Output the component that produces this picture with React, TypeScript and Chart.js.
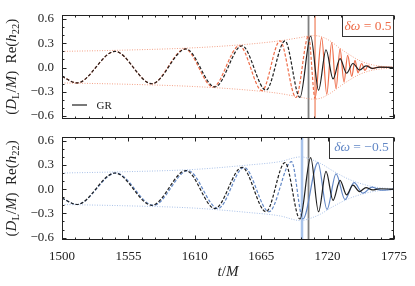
import React, { useEffect, useRef } from "react";
import { Chart, registerables } from "chart.js";

Chart.register(...registerables);

const FONT = '"Liberation Serif", "DejaVu Serif", serif';

// ---- axes ----
const X_MIN = 1500;
const X_MAX = 1775;
const Y_MIN = -0.63;
const Y_MAX = 0.65;
const xTickValues = [1500, 1555, 1610, 1665, 1720, 1775];
const X_MINOR_STEP = 11;
const yTickValues = [-0.6, -0.3, 0.0, 0.3, 0.6];
const Y_MINOR_STEP = 0.1;

// ---- GR waveform (extrema) ----
const grTime = [1500, 1512.4, 1543.9, 1574.5, 1602.7, 1626.7, 1649.1, 1669.0, 1684.7, 1697.1, 1706.0, 1712.5, 1718.7, 1724.5, 1730.3, 1735.7, 1741.0, 1746.4, 1751.8, 1757.2, 1763, 1775];
const grStrain = [-0.11, -0.19, 0.2, -0.2, 0.23, -0.24, 0.27, -0.28, 0.33, -0.37, 0.39, -0.28, 0.22, -0.14, 0.11, -0.07, 0.05, -0.03, 0.02, -0.01, 0.005, 0];
const grInspiralEnd = 1697.1;
const grMergerTime = 1704.2;

// ---- delta omega = +0.5 ----
const posTime = [1500, 1512.4, 1543.9, 1574.5, 1601.9, 1625.1, 1647.0, 1665.7, 1680.6, 1693.8, 1704.2, 1709.6, 1715.1, 1719.3, 1723.4, 1727.0, 1730.3, 1733.6, 1736.6, 1740.0, 1742.7, 1745.2, 1748.2, 1751.0, 1753.5, 1756.8, 1762, 1775];
const posStrain = [-0.11, -0.19, 0.2, -0.2, 0.23, -0.24, 0.27, -0.285, 0.33, -0.37, 0.39, -0.38, 0.37, -0.33, 0.31, -0.26, 0.23, -0.18, 0.15, -0.11, 0.09, -0.065, 0.05, -0.035, 0.025, -0.013, 0.005, 0];
const posInspiralEnd = 1709.6;
const posMergerTime = 1709.6;
const posEnvTime = [1500, 1550, 1610, 1655, 1680, 1697, 1708, 1714, 1722, 1730, 1738, 1746, 1754, 1762, 1775];
const posEnvUpper = [0.2, 0.215, 0.245, 0.29, 0.33, 0.37, 0.395, 0.385, 0.33, 0.24, 0.16, 0.09, 0.045, 0.02, 0.005];
const posEnvLower = [-0.19, -0.205, -0.235, -0.28, -0.32, -0.365, -0.39, -0.38, -0.32, -0.235, -0.155, -0.088, -0.044, -0.02, -0.005];

// ---- delta omega = -0.5 ----
const negTime = [1500, 1512.4, 1544.7, 1575.8, 1604.4, 1629.2, 1650.8, 1671.5, 1690.1, 1699.6, 1712.0, 1719.5, 1727.0, 1734.4, 1741.9, 1749.3, 1756.8, 1764.2, 1775];
const negStrain = [-0.11, -0.19, 0.2, -0.2, 0.23, -0.24, 0.27, -0.28, 0.34, -0.37, 0.33, -0.25, 0.19, -0.13, 0.08, -0.05, 0.025, -0.012, 0];
const negInspiralEnd = 1699.6;
const negMergerTime = 1698.8;
const negEnvTime = [1500, 1550, 1610, 1655, 1680, 1698, 1706, 1714, 1724, 1738, 1752, 1762, 1775];
const negEnvUpper = [0.2, 0.215, 0.245, 0.3, 0.34, 0.4, 0.37, 0.32, 0.23, 0.12, 0.05, 0.02, 0.005];
const negEnvLower = [-0.19, -0.205, -0.235, -0.29, -0.33, -0.39, -0.36, -0.31, -0.22, -0.115, -0.048, -0.02, -0.005];

const COLORS = {
  gr: "#1f1f1f",
  grMerger: "#808080",
  pos: "#ee6c48",
  posEnv: "#f3a288",
  posMerger: "#f08866",
  neg: "#6388c6",
  negEnv: "#a9c1e8",
  negMerger: "#a9c4ec",
};

const zip = (xs: number[], ys: number[]) => xs.map((x, i) => ({ x, y: ys[i] }));

type Run = { t: string; italic?: boolean; sub?: boolean };

function drawRuns(ctx: CanvasRenderingContext2D, runs: Run[], x: number, y: number, size: number, color: string) {
  const fontFor = (r: Run) => `${r.italic ? "italic " : ""}${r.sub ? size * 0.7 : size}px ${FONT}`;
  let w = 0;
  for (const r of runs) {
    ctx.font = fontFor(r);
    w += ctx.measureText(r.t).width;
  }
  let cx = x - w / 2;
  ctx.fillStyle = color;
  ctx.textAlign = "left";
  ctx.textBaseline = "alphabetic";
  for (const r of runs) {
    ctx.font = fontFor(r);
    ctx.fillText(r.t, cx, y + (r.sub ? size * 0.22 : 0));
    cx += ctx.measureText(r.t).width;
  }
}

const yLabelRuns: Run[] = [
  { t: "(" }, { t: "D", italic: true }, { t: "L", sub: true }, { t: "/" }, { t: "M", italic: true }, { t: ")" },
  { t: "  Re(" }, { t: "h", italic: true }, { t: "22", sub: true }, { t: ")" },
];

const framePlugin = {
  id: "frameTicks",
  afterDatasetsDraw(chart: any) {
    const { ctx, chartArea: a, scales } = chart;
    const xs = scales.x;
    const ys = scales.y;
    ctx.save();
    ctx.strokeStyle = "#222";
    ctx.lineWidth = 1;
    const L = Math.round(a.left) + 0.5;
    const R = Math.round(a.right) - 0.5;
    const T = Math.round(a.top) + 0.5;
    const B = Math.round(a.bottom) - 0.5;
    ctx.strokeRect(L, T, R - L, B - T);
    ctx.beginPath();
    const nx = Math.round((X_MAX - X_MIN) / X_MINOR_STEP);
    for (let k = 0; k <= nx; k++) {
      const v = X_MIN + k * X_MINOR_STEP;
      const major = k % 5 === 0;
      const len = major ? 4 : 2;
      const px = Math.round(xs.getPixelForValue(v)) + 0.5;
      ctx.moveTo(px, B); ctx.lineTo(px, B - len);
      ctx.moveTo(px, T); ctx.lineTo(px, T + len);
    }
    for (let k = -6; k <= 6; k++) {
      const v = k * Y_MINOR_STEP;
      const major = k % 3 === 0;
      const len = major ? 4 : 2;
      const py = Math.round(ys.getPixelForValue(v)) + 0.5;
      ctx.moveTo(L, py); ctx.lineTo(L + len, py);
      ctx.moveTo(R, py); ctx.lineTo(R - len, py);
    }
    ctx.stroke();
    ctx.restore();
  },
};

function makeOverlay(opts: { boxText: Run[]; boxColor: string; boxLeft: number; boxBottom: number; baseline: number; legend: boolean; xTitle: boolean }) {
  return {
    id: "overlay",
    afterDraw(chart: any) {
      const { ctx, chartArea: a } = chart;
      ctx.save();
      // y label
      ctx.save();
      ctx.translate(15.5, (a.top + a.bottom) / 2);
      ctx.rotate(-Math.PI / 2);
      drawRuns(ctx, yLabelRuns, 0, 0, 15, "#222");
      ctx.restore();
      // box
      const bl = opts.boxLeft + 0.5;
      const bt = Math.round(a.top) + 0.5;
      const br = Math.round(a.right) - 0.5;
      const bb = opts.boxBottom + 0.5;
      ctx.fillStyle = "#fff";
      ctx.fillRect(bl, bt, br - bl, bb - bt);
      ctx.strokeStyle = "#333";
      ctx.lineWidth = 1;
      ctx.strokeRect(bl, bt, br - bl, bb - bt);
      drawRuns(ctx, opts.boxText, (bl + br) / 2, opts.baseline, 13.5, opts.boxColor);
      if (opts.legend) {
        ctx.strokeStyle = COLORS.gr;
        ctx.lineWidth = 1.2;
        ctx.beginPath();
        ctx.moveTo(72, a.bottom - 13.5);
        ctx.lineTo(87, a.bottom - 13.5);
        ctx.stroke();
        ctx.fillStyle = "#222";
        ctx.font = `11px ${FONT}`;
        ctx.textAlign = "left";
        ctx.textBaseline = "alphabetic";
        ctx.fillText("GR", 96.5, a.bottom - 9.5);
      }
      if (opts.xTitle) {
        drawRuns(ctx, [{ t: "t", italic: true }, { t: "/" }, { t: "M", italic: true }], (a.left + a.right) / 2, a.bottom + 36, 15, "#222");
      }
      ctx.restore();
    },
  };
}

function buildConfig(p: {
  modTime: number[]; modStrain: number[]; modInspEnd: number; modMerger: number;
  envTime: number[]; envUpper: number[]; envLower: number[];
  color: string; envColor: string; mergerColor: string; mergerWidth: number;
  showX: boolean; padding: any; overlay: any;
}): any {
  const wave = (data: any, color: string, inspEnd: number) => ({
    data,
    borderColor: color,
    borderWidth: 1.2,
    pointRadius: 0,
    cubicInterpolationMode: "monotone",
    borderDash: [],
    segment: {
      borderDash: (ctx: any) => (ctx.p1.parsed.x <= inspEnd + 0.01 ? [3.2, 1.8] : undefined),
    },
  });
  const env = (data: any) => ({
    data,
    borderColor: p.envColor,
    borderWidth: 1,
    pointRadius: 0,
    cubicInterpolationMode: "monotone",
    borderDash: [1, 1.5],
  });
  const vline = (t: number, color: string, width: number) => ({
    data: [{ x: t, y: Y_MIN }, { x: t, y: Y_MAX }],
    borderColor: color,
    borderWidth: width,
    pointRadius: 0,
    tension: 0,
  });
  return {
    type: "line",
    data: {
      datasets: [
        wave(zip(grTime, grStrain), COLORS.gr, grInspiralEnd),
        wave(zip(p.modTime, p.modStrain), p.color, p.modInspEnd),
        env(zip(p.envTime, p.envUpper)),
        env(zip(p.envTime, p.envLower)),
        vline(p.modMerger, p.mergerColor, p.mergerWidth),
        vline(grMergerTime, COLORS.grMerger, 1.8),
      ],
    },
    options: {
      animation: false,
      responsive: false,
      devicePixelRatio: 1,
      events: [],
      layout: { padding: p.padding },
      plugins: { legend: { display: false }, tooltip: { enabled: false }, title: { display: false } },
      scales: {
        x: {
          type: "linear",
          min: X_MIN,
          max: X_MAX,
          display: p.showX,
          grid: { display: false, drawTicks: false },
          border: { display: false },
          afterBuildTicks: (s: any) => { s.ticks = xTickValues.map((v) => ({ value: v })); },
          afterFit: (s: any) => {
            s.height = p.showX ? 46 : 0;
            s.paddingLeft = 0; s.paddingRight = 0; s.paddingTop = 0; s.paddingBottom = 0;
          },
          ticks: {
            font: { family: FONT, size: 13 },
            color: "#222",
            padding: 9,
            maxRotation: 0,
            autoSkip: false,
            callback: (v: any) => String(v),
          },
        },
        y: {
          type: "linear",
          min: Y_MIN,
          max: Y_MAX,
          grid: { display: false, drawTicks: false },
          border: { display: false },
          afterBuildTicks: (s: any) => { s.ticks = yTickValues.map((v) => ({ value: v })); },
          afterFit: (s: any) => {
            s.width = 62;
            s.paddingLeft = 0; s.paddingRight = 0; s.paddingTop = 0; s.paddingBottom = 0;
          },
          ticks: {
            font: { family: FONT, size: 13 },
            color: "#222",
            padding: 8,
            callback: (v: any) => (v < -1e-9 ? "\u2212" : "") + Math.abs(v).toFixed(1),
          },
        },
      },
    },
    plugins: [framePlugin, p.overlay],
  };
}

export default function App() {
  const topRef = useRef<HTMLCanvasElement>(null);
  const botRef = useRef<HTMLCanvasElement>(null);

  useEffect(() => {
    const top = new Chart(
      topRef.current as HTMLCanvasElement,
      buildConfig({
        modTime: posTime, modStrain: posStrain, modInspEnd: posInspiralEnd, modMerger: posMergerTime,
        envTime: posEnvTime, envUpper: posEnvUpper, envLower: posEnvLower,
        color: COLORS.pos, envColor: COLORS.posEnv, mergerColor: COLORS.posMerger, mergerWidth: 1.3,
        showX: false,
        padding: { left: 0, right: 21, top: 15, bottom: 11.5 },
        overlay: makeOverlay({
          boxText: [{ t: "δ", italic: true }, { t: "ω", italic: true }, { t: " = 0.5" }],
          boxColor: COLORS.pos, boxLeft: 342, boxBottom: 36, baseline: 29.5, legend: true, xTitle: false,
        }),
      })
    );
    const bot = new Chart(
      botRef.current as HTMLCanvasElement,
      buildConfig({
        modTime: negTime, modStrain: negStrain, modInspEnd: negInspiralEnd, modMerger: negMergerTime,
        envTime: negEnvTime, envUpper: negEnvUpper, envLower: negEnvLower,
        color: COLORS.neg, envColor: COLORS.negEnv, mergerColor: COLORS.negMerger, mergerWidth: 2.5,
        showX: true,
        padding: { left: 0, right: 21, top: 6.7, bottom: 0 },
        overlay: makeOverlay({
          boxText: [{ t: "δ", italic: true }, { t: "ω", italic: true }, { t: " = \u22120.5" }],
          boxColor: COLORS.neg, boxLeft: 329, boxBottom: 28, baseline: 20.5, legend: false, xTitle: true,
        }),
      })
    );
    return () => {
      top.destroy();
      bot.destroy();
    };
  }, []);

  return (
    <div style={{ position: "absolute", left: 0, top: 0, width: 415, height: 286, background: "#fff" }}>
      <canvas ref={topRef} width={415} height={130} style={{ position: "absolute", left: 0, top: 0, display: "block" }} />
      <canvas ref={botRef} width={415} height={156} style={{ position: "absolute", left: 0, top: 130, display: "block" }} />
    </div>
  );
}
